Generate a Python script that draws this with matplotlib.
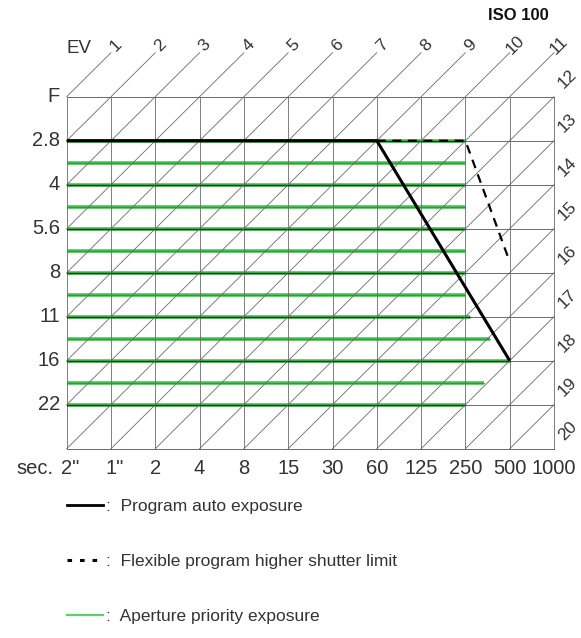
import numpy as np
import matplotlib
matplotlib.use("Agg")
import matplotlib.pyplot as plt
from matplotlib.lines import Line2D

plt.rcParams["font.family"] = ["Liberation Sans", "DejaVu Sans"]

# shutter speed columns (one stop apart) and aperture rows (one stop apart)
shutter_labels = ['2"', '1"', "2", "4", "8", "15", "30", "60", "125", "250", "500", "1000"]
aperture_labels = ["F", "2.8", "4", "5.6", "8", "11", "16", "22"]
ev_top = list(range(1, 12))
ev_right = list(range(12, 21))

# program line (column index, row index in stops)
program_x = [0, 7, 10]
program_y = [1, 1, 6]
flexible_x = [7, 9, 10]
flexible_y = [1, 1, 3.75]

# aperture priority rows (half stops) and where they end
ap_rows = [1, 1.5, 2, 2.5, 3, 3.5, 4, 4.5, 5, 5.5, 6, 6.5, 7]
ap_ends = [9, 9, 9, 9, 9, 9, 9, 9, 9.1, 9.55, 10, 9.43, 9]

GREEN = "#45c152"
GRID = "#6a6a6a"
TXT = "#333333"

n_cols = len(shutter_labels) - 1   # 11 cells across
n_rows = len(aperture_labels)      # 8 cells down

fig = plt.figure(figsize=(5.81, 6.38), dpi=100)
ax = fig.add_axes([0, 0, 1, 1])
px_x, px_y = 44.3, 44.0
ax.set_xlim(-66.7 / px_x, (581 - 66.7) / px_x)
ax.set_ylim((638 - 96.7) / px_y, -96.7 / px_y)
ax.axis("off")

# aperture priority (green)
for row, end in zip(ap_rows, ap_ends):
    ax.plot([0, end], [row, row], color=GREEN, lw=2.6, solid_capstyle="butt", zorder=2)
    if row % 1:
        ax.plot([0, end], [row, row], color="#2f8f3a", lw=0.6, zorder=3)

# grid
for i in range(n_cols + 1):
    ax.plot([i, i], [0, n_rows], color=GRID, lw=0.6, zorder=3)
for j in range(n_rows + 1):
    ax.plot([0, n_cols], [j, j], color=GRID, lw=0.7, zorder=3)
for j in range(1, n_rows):
    end = ap_ends[ap_rows.index(j)] if j in ap_rows else 0
    ax.plot([0, end], [j, j], color="#1d3a20", lw=1.0, zorder=3)

# EV diagonals: EV = col + row + 1
for ev in ev_top + ev_right[:-1]:
    s = ev - 1
    i0 = max(0, s - n_rows)
    i1 = min(n_cols, s)
    xs = [i0, i1]
    ys = [s - i0, s - i1]
    if ev in ev_top:
        xs[1], ys[1] = ev, -1
    ax.plot(xs, ys, color=GRID, lw=0.6, zorder=3)

# program lines
ax.plot(program_x, program_y, color="black", lw=2.2, zorder=5,
        solid_capstyle="butt")
ax.plot(flexible_x, flexible_y, color="black", lw=1.6, zorder=4,
        linestyle=(0, (4, 3)))

# labels
for ev in ev_top:
    ax.text(ev + 0.12, -1.17, str(ev), rotation=45, ha="center", va="center",
            fontsize=12.5, color=TXT)
for ev in ev_right:
    ax.text(n_cols + 0.3, ev - 12 - 0.4, str(ev), rotation=45, ha="center",
            va="center", fontsize=12.5, color=TXT)
ax.text(0.27, -1.1, "EV", ha="center", va="center", fontsize=13.5, color=TXT)
ax.text(10.2, -1.85, "ISO 100", ha="center", va="center", fontsize=12,
        fontweight="bold", color="#111111")

for j, lab in enumerate(aperture_labels):
    ax.text(-0.15, j, lab, ha="right", va="center", fontsize=14.5, color=TXT)
for i, lab in enumerate(shutter_labels):
    dx = 0.08 if '"' in lab else 0
    ax.text(i + dx, n_rows + 0.45, lab, ha="center", va="center",
            fontsize=14.5, color=TXT)
ax.text(-0.3, n_rows + 0.45, "sec.", ha="right", va="center", fontsize=14.5,
        color=TXT)

# legend
green_h = Line2D([], [], color="#5fd068", lw=1.6)
flex_h = Line2D([], [], color="black", lw=2.2, linestyle=(0, (1.5, 2.6)))
prog_h = Line2D([], [], color="black", lw=2.0)
fig.legend([prog_h, flex_h, green_h],
           [":  Program auto exposure", ":  Flexible program higher shutter limit",
            ":  Aperture priority exposure"],
           loc="upper left", bbox_to_anchor=(0.1153, 0.218), frameon=False,
           handlelength=2.07, handletextpad=0.15, labelspacing=2.3,
           fontsize=12.5, labelcolor=TXT, borderaxespad=0, borderpad=0)

fig.savefig("out.png", dpi=100)
